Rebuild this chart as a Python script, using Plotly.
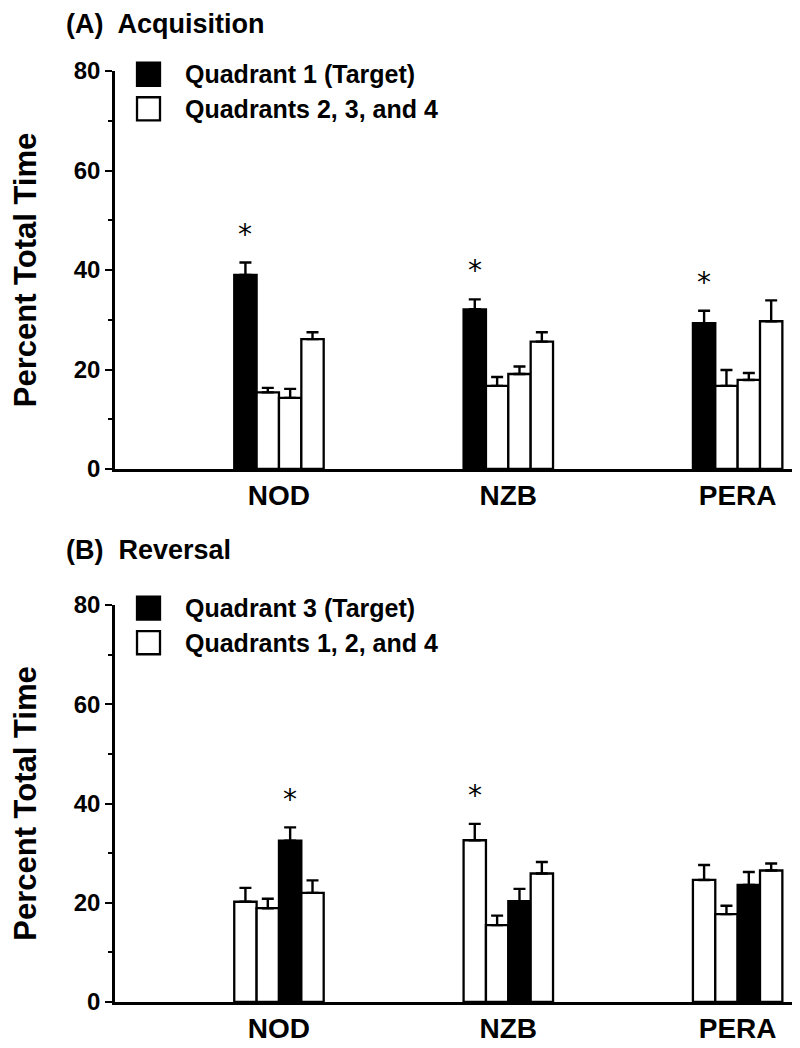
import plotly.graph_objects as go

strains = ["NOD", "NZB", "PERA"]
xpos = [1, 2, 3]

# (A) Acquisition: quadrant means and SEM (Quadrant 1 = target)
acq_q1 = [39.0, 32.1, 29.3]
acq_q1_err = [2.5, 2.0, 2.5]
acq_q2 = [15.4, 16.7, 16.7]
acq_q2_err = [0.9, 1.8, 3.2]
acq_q3 = [14.3, 19.1, 17.9]
acq_q3_err = [1.8, 1.5, 1.4]
acq_q4 = [26.1, 25.6, 29.7]
acq_q4_err = [1.4, 1.9, 4.2]
acq_target = 0  # index of target quadrant

# (B) Reversal: quadrant means and SEM (Quadrant 3 = target)
rev_q1 = [20.2, 32.6, 24.6]
rev_q1_err = [2.8, 3.3, 3.0]
rev_q2 = [18.9, 15.5, 17.7]
rev_q2_err = [1.9, 1.9, 1.7]
rev_q3 = [32.5, 20.3, 23.6]
rev_q3_err = [2.7, 2.5, 2.6]
rev_q4 = [22.0, 25.9, 26.5]
rev_q4_err = [2.5, 2.3, 1.4]
rev_target = 2

# significant bars: (strain, quadrant index)
acq_stars = [("NOD", 0), ("NZB", 0), ("PERA", 0)]
rev_stars = [("NOD", 2), ("NZB", 0)]

yticks = [0, 20, 40, 60, 80]

FONT = "Liberation Sans, Arial, Helvetica, sans-serif"
BARGAP = 0.61
NQ = 4
bw = (1 - BARGAP) / NQ

fig = go.Figure()

panels = [
    ("x", "y", [acq_q1, acq_q2, acq_q3, acq_q4],
     [acq_q1_err, acq_q2_err, acq_q3_err, acq_q4_err], acq_target, acq_stars),
    ("x2", "y2", [rev_q1, rev_q2, rev_q3, rev_q4],
     [rev_q1_err, rev_q2_err, rev_q3_err, rev_q4_err], rev_target, rev_stars),
]

for xa, ya, vals, errs, target, stars in panels:
    for k in range(NQ):
        color = "black" if k == target else "white"
        fig.add_trace(go.Bar(
            x=xpos, y=vals[k], xaxis=xa, yaxis=ya,
            marker=dict(color=color, line=dict(color="black", width=2.3)),
            error_y=dict(type="data", symmetric=False, array=errs[k],
                         arrayminus=[0] * len(xpos), color="black",
                         thickness=2.4, width=6),
            showlegend=False, offsetgroup=str(k),
        ))
    for s, k in stars:
        i = strains.index(s)
        xc = xpos[i] - (1 - BARGAP) / 2 + bw * (k + 0.5)
        fig.add_annotation(
            x=xc, y=vals[k][i] + errs[k][i] + 5.3, xref=xa, yref=ya,
            text="*", showarrow=False, yanchor="middle",
            font=dict(family="DejaVu Sans", size=28, color="black"),
            yshift=2,
        )

axis_common = dict(showline=True, linecolor="black", linewidth=2.5,
                   showgrid=False, zeroline=False)
xax = dict(range=[0.285, 3.285], tickvals=xpos, ticktext=strains, ticks="",
           tickfont=dict(family=FONT, size=28, color="black", weight="bold"),
           **axis_common)
yax = dict(range=[0, 80], tickvals=yticks, ticks="outside", ticklen=7,
           tickwidth=2.3, tickcolor="black",
           minor=dict(dtick=10, ticks="outside", ticklen=4, tickwidth=2.3,
                      tickcolor="black"),
           tickfont=dict(family=FONT, size=24, color="black", weight="bold"),
           title=dict(text="<b>Percent Total Time</b>",
                      font=dict(family=FONT, size=31, color="black"),
                      standoff=30),
           **axis_common)

fig.update_layout(
    width=800, height=1048,
    margin=dict(l=107, r=5, t=63, b=54),
    paper_bgcolor="white", plot_bgcolor="white",
    barmode="group", bargap=BARGAP, bargroupgap=0,
    xaxis=dict(domain=[0, 1], anchor="y", **xax),
    yaxis=dict(domain=[0.5725, 1.0], anchor="x", **yax),
    xaxis2=dict(domain=[0, 1], anchor="y2", **xax),
    yaxis2=dict(domain=[0, 0.4264], anchor="x2", **yax),
    font=dict(family=FONT, color="black"),
)

# Panel titles
fig.add_annotation(text="<b>(A)  Acquisition</b>", xref="paper", yref="paper",
                   x=-0.074, y=1.0505, xanchor="left", yanchor="middle",
                   showarrow=False, font=dict(family=FONT, size=27, color="black"))
fig.add_annotation(text="<b>(B)  Reversal</b>", xref="paper", yref="paper",
                   x=-0.074, y=0.4855, xanchor="left", yanchor="middle",
                   showarrow=False, font=dict(family=FONT, size=27, color="black"))

# Manual legends
legends = [
    ("x domain", "y domain", ["Quadrant 1 (Target)", "Quadrants 2, 3, and 4"]),
    ("x2 domain", "y2 domain", ["Quadrant 3 (Target)", "Quadrants 1, 2, and 4"]),
]
for xr, yr, labels in legends:
    for j, (lab, fill) in enumerate(zip(labels, ["black", "white"])):
        yc = 0.992 - j * 0.087
        fig.add_shape(type="rect", xref=xr, yref=yr,
                      x0=0.032, x1=0.0654, y0=yc - 0.029, y1=yc + 0.029,
                      fillcolor=fill, line=dict(color="black", width=2.3))
        fig.add_annotation(text=f"<b>{lab}</b>", xref=xr, yref=yr,
                           x=0.0985, y=yc, xanchor="left", yanchor="middle",
                           showarrow=False,
                           font=dict(family=FONT, size=25, color="black"))

fig.write_html("out.html")
